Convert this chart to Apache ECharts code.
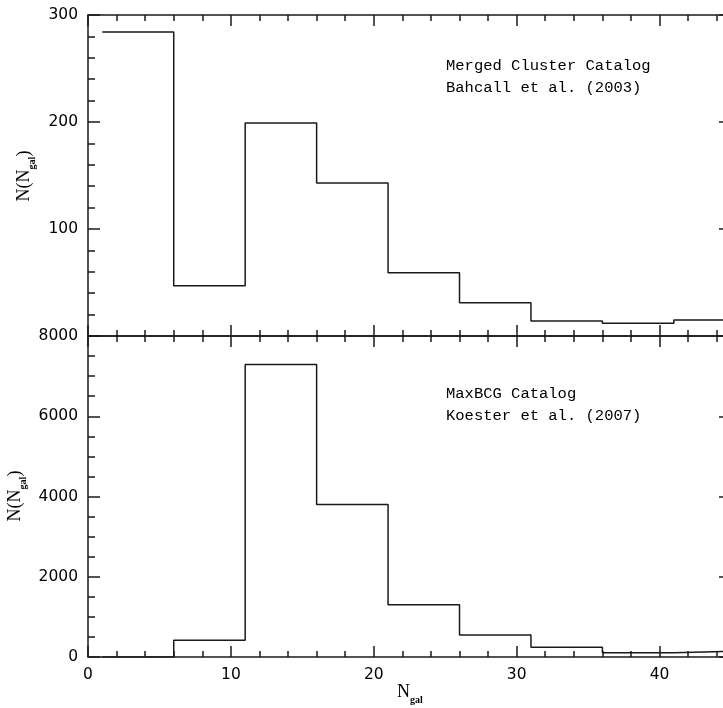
<!DOCTYPE html>
<html>
<head>
<meta charset="utf-8">
<script src="https://cdn.jsdelivr.net/npm/echarts@6/dist/echarts.min.js"></script>
<style>
  html, body { margin: 0; padding: 0; background: #fff; }
  #chart { width: 723px; height: 708px; }
</style>
</head>
<body>
<div id="chart"></div>
<script>
// Histogram bins of N_gal: each bin starts at binStart and is binWidth wide
const binStart = [1, 6, 11, 16, 21, 26, 31, 36, 41];
const binWidth = 5;

// Merged Cluster Catalog, Bahcall et al. (2003)
const mergedCounts = [284, 47, 199, 143, 59, 31, 14, 12, 15];
// MaxBCG Catalog, Koester et al. (2007)
const maxbcgCounts = [0, 420, 7290, 3800, 1300, 550, 240, 105, 150];

const topTicks = [0, 100, 200, 300];
const bottomTicks = [0, 2000, 4000, 6000, 8000];
const xTicks = [0, 10, 20, 30, 40];

const topLines = ['Merged Cluster Catalog', 'Bahcall et al. (2003)'];
const bottomLines = ['MaxBCG Catalog', 'Koester et al. (2007)'];

// step outline: one point per bin edge, closing at the last edge
function stepData(counts) {
  const pts = binStart.map((x, i) => [x, counts[i]]);
  pts.push([binStart[binStart.length - 1] + binWidth, counts[counts.length - 1]]);
  return pts;
}

const INK = '#1a1a1a';
const LW = 1.5;
const labelFont = { fontFamily: 'DejaVu Sans', fontSize: 15.5, color: '#000', formatter: v => String(v) };

function xAxisCfg(gridIndex, position, showLabels) {
  return {
    type: 'value', gridIndex, position,
    min: 0, max: 45, interval: xTicks[1] - xTicks[0],
    axisLine: { show: true, onZero: false, lineStyle: { color: INK, width: LW } },
    axisTick: { show: true, inside: true, length: 11, lineStyle: { color: INK, width: LW } },
    minorTick: { show: true, splitNumber: 5, length: 6, lineStyle: { color: INK, width: LW } },
    splitLine: { show: false },
    axisLabel: Object.assign({ show: showLabels, margin: 10, showMaxLabel: false }, labelFont)
  };
}

function yAxisCfg(gridIndex, position, max, interval, minor, showLabels, showMin) {
  return {
    type: 'value', gridIndex, position,
    min: 0, max, interval,
    axisLine: { show: true, onZero: false, lineStyle: { color: INK, width: LW } },
    axisTick: { show: true, inside: true, length: 12, lineStyle: { color: INK, width: LW } },
    minorTick: { show: true, splitNumber: minor, length: 7, lineStyle: { color: INK, width: LW } },
    splitLine: { show: false },
    axisLabel: Object.assign({ show: showLabels, margin: 10, showMinLabel: showMin }, labelFont)
  };
}

const titleRich = {
  a: { fontFamily: 'Liberation Serif', fontSize: 18, color: '#000', lineHeight: 22, verticalAlign: 'top' },
  b: { fontFamily: 'Liberation Serif', fontSize: 10, fontWeight: 'bold', color: '#000', lineHeight: 10, verticalAlign: 'bottom' }
};

const noteStyle = { fontFamily: 'Liberation Mono', fontSize: 15.5, fill: '#000' };

const chart = echarts.init(document.getElementById('chart'), null, { renderer: 'canvas' });
chart.setOption({
  backgroundColor: '#fff',
  animation: false,
  grid: [
    { left: 88, top: 15, width: 643, height: 321, outerBoundsMode: 'none', containLabel: false },
    { left: 88, top: 336, width: 643, height: 321, outerBoundsMode: 'none', containLabel: false }
  ],
  xAxis: [
    xAxisCfg(0, 'bottom', false),
    xAxisCfg(0, 'top', false),
    xAxisCfg(1, 'bottom', true),
    xAxisCfg(1, 'top', false)
  ],
  yAxis: [
    yAxisCfg(0, 'left', topTicks[topTicks.length - 1], topTicks[1], 5, true, false),
    yAxisCfg(0, 'right', topTicks[topTicks.length - 1], topTicks[1], 5, false, false),
    yAxisCfg(1, 'left', bottomTicks[bottomTicks.length - 1], bottomTicks[1], 4, true, true),
    yAxisCfg(1, 'right', bottomTicks[bottomTicks.length - 1], bottomTicks[1], 4, false, true)
  ],
  series: [
    {
      type: 'line', step: 'end', xAxisIndex: 0, yAxisIndex: 0,
      data: stepData(mergedCounts), symbol: 'none', clip: true,
      lineStyle: { color: INK, width: LW }
    },
    {
      type: 'line', step: 'end', xAxisIndex: 2, yAxisIndex: 2,
      data: stepData(maxbcgCounts), symbol: 'none', clip: true,
      lineStyle: { color: INK, width: LW }
    }
  ],
  graphic: [
    { type: 'text', left: 446, top: 55, style: Object.assign({ text: topLines.join('\n'), lineHeight: 22 }, noteStyle) },
    { type: 'text', left: 446, top: 383, style: Object.assign({ text: bottomLines.join('\n'), lineHeight: 22 }, noteStyle) },
    { type: 'text', x: 26, y: 176, rotation: Math.PI / 2,
      style: { text: '{a|N(N}{b|gal}{a|)}', rich: titleRich, align: 'center', verticalAlign: 'middle' } },
    { type: 'text', x: 17, y: 496, rotation: Math.PI / 2,
      style: { text: '{a|N(N}{b|gal}{a|)}', rich: titleRich, align: 'center', verticalAlign: 'middle' } },
    { type: 'text', x: 410, y: 694,
      style: { text: '{a|N}{b|gal}', rich: titleRich, align: 'center', verticalAlign: 'middle' } }
  ]
});
</script>
</body>
</html>
